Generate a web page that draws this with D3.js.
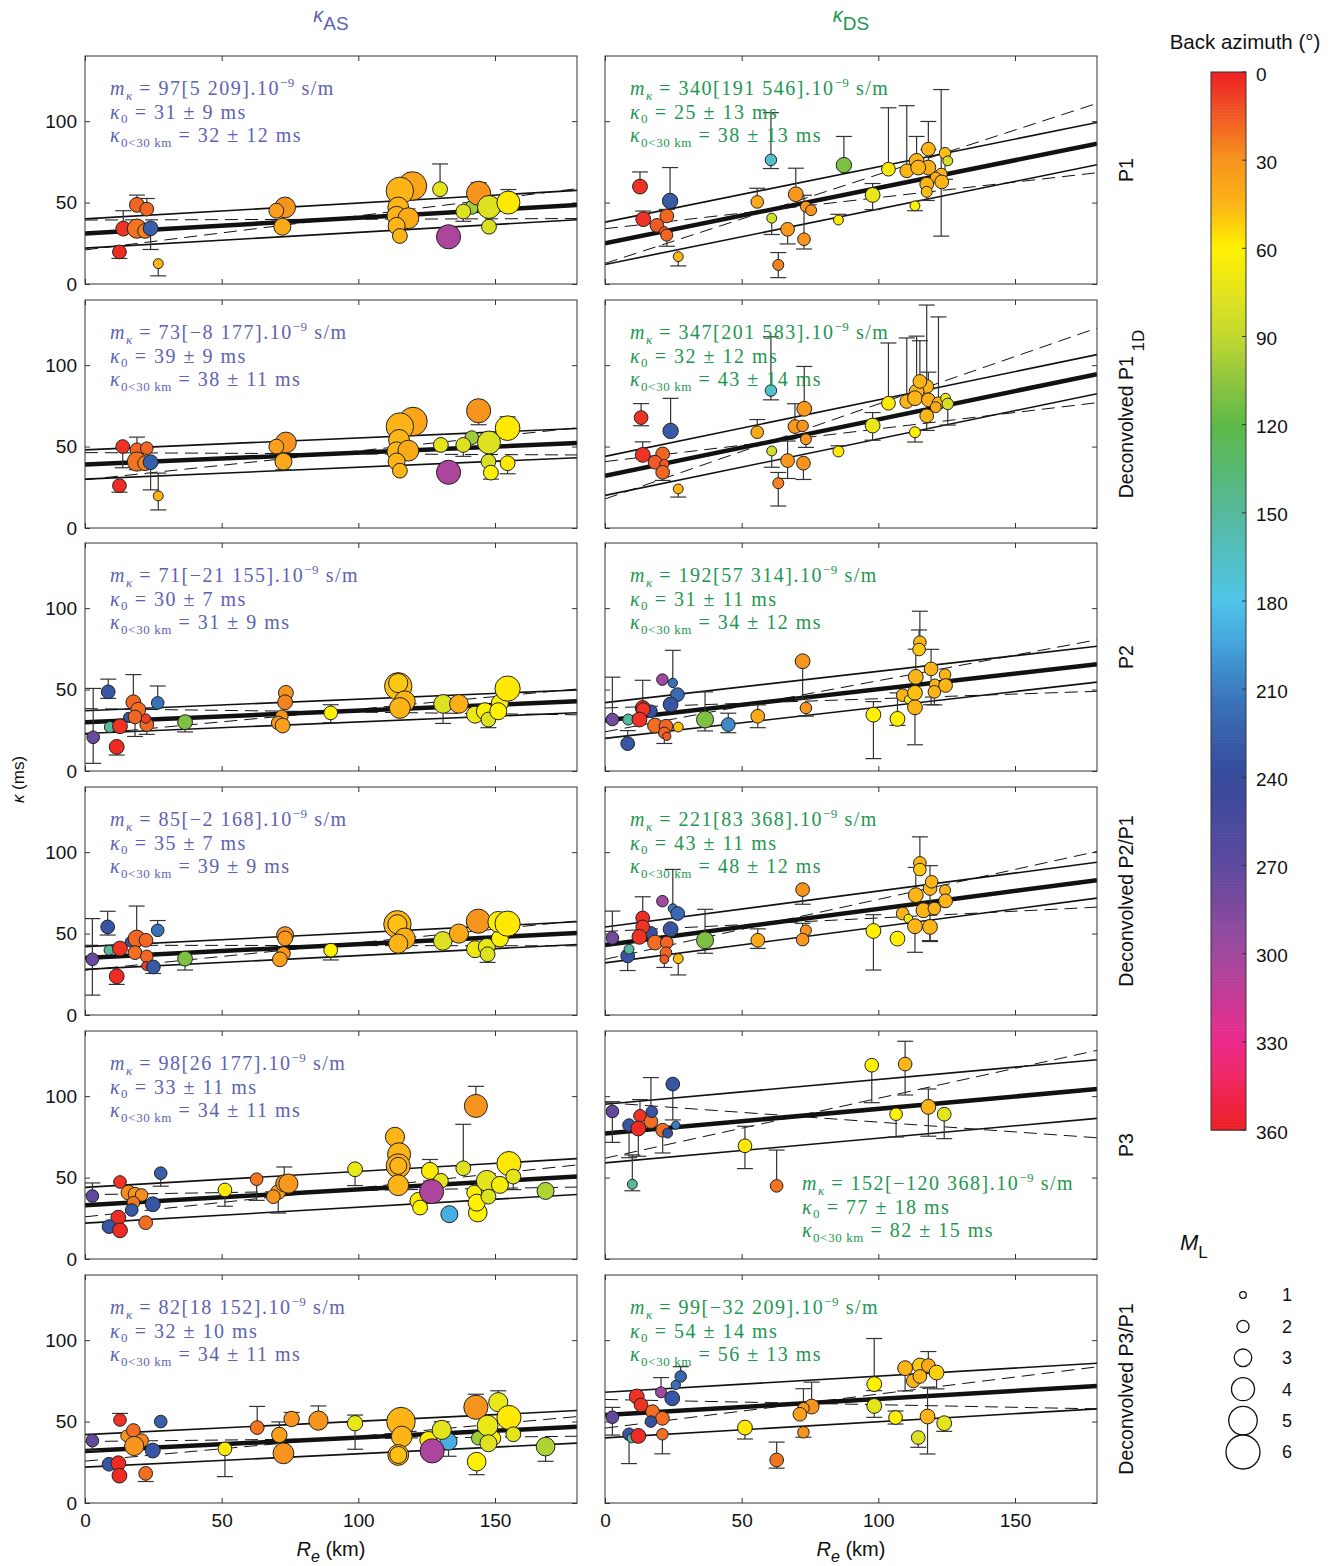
<!DOCTYPE html>
<html>
<head>
<meta charset="utf-8">
<script src="https://cdn.jsdelivr.net/npm/d3@7"></script>
<style>
body { margin: 0; background: #fff; }
svg text { font-family: "Liberation Sans", Arial, sans-serif; white-space: pre; }
.tex { font-family: "Liberation Serif", "DejaVu Serif", serif; }
</style>
</head>
<body>
<div id="chart"></div>
<script>
// rows: [Re (km), kappa (ms), back azimuth (deg), ML, error below, error above]
const asP1 = [
  [14,34,5,2.5,0,11],[12.6,19.7,3,2.3,4,0],[19,48.6,18,2.5,0,6],[22.6,46,18,2.3,0,6.5],
  [19,34,22,3.3,0,0],[22,32.6,25,2.5,0,0],[24,34.2,225,2.5,13,0],[26.8,12.5,45,1.6,7.5,0],
  [73.2,47,30,3.6,0,0],[70,45,35,2.5,0,0],[72.2,35.2,40,2.9,2,0],[119.8,60.2,38,5,0,0],
  [115.2,57.2,45,4.8,0,0],[114.6,47,45,3.6,0,0],[114,41.8,45,3.3,0,0],[118.3,40.4,40,3.6,0,0],
  [114,35.7,45,2.9,0,0],[115.2,29.5,45,2.5,0,0],[129.9,58.2,75,2.5,0,15.5],[133,29,305,4.2,0,0],
  [141.5,47,100,2.3,0,0],[138.4,44.5,78,2.5,6,0],[144,55.7,30,4.2,0,6.5],[147.8,47.3,78,4,0,0],
  [147.8,35.2,80,2.5,0,0],[154.9,50,58,4,0,8]
]
const dsP1 = [
  [12.8,59.8,5,2.5,0,9],[14,39.8,5,2.5,0,5],[23.8,51,228,2.6,0,20.5],[22.6,41.8,18,2.3,0,4],
  [19,36,15,2.3,0,0],[21.7,32.2,15,1.6,0,0],[22.6,30,18,2,6.8,0],[26.8,16.8,45,1.6,5.7,0],
  [60.7,76.2,170,1.9,5.3,29],[55.7,50.4,40,2.1,0,8.4],[61,40.4,82,1.6,10,0],[69.8,55.1,32,2.5,0,16],
  [66.8,33.6,32,2.3,9,0],[73.5,47.5,30,1.8,0,0],[75.4,45.3,30,1.8,0,0],[72.8,27.5,30,2.1,6,27],
  [63.4,11.7,25,1.8,7.8,7.6],[87.4,73,110,2.6,0,17.6],[85.4,39.3,58,1.6,0,3.5],[97.9,54.7,72,2.5,9,7],
  [103.7,70.5,58,2.3,0,37.7],[113.4,48,60,1.6,3,0],[110.4,69.5,45,2.3,0,40],[123,67.4,45,2,38,52],
  [114,75.6,45,2.5,0,15],[118.3,82.8,45,2.3,0,17],[118.3,71.5,42,2.5,0,11],[114.6,71.5,45,2.5,0,0],
  [121,65.4,40,1.8,0,0],[117.7,61.3,45,2.3,10,0],[117.7,56.6,48,1.8,0,0],[123.2,62.7,45,2.3,0,0],
  [124.4,80.3,48,1.9,16,0],[125.4,75.6,82,1.6,0,0]
]
const as1D = [
  [13.8,50,5,2.3,13,0],[12.6,26,3,2.3,4,0],[19,48,18,2.3,0,0],[22.6,49,18,2.1,0,0],
  [19,40.8,22,3.3,5,15],[22,39.8,25,2.5,0,0],[24,40.4,225,2.5,17,0],[26.8,19.7,45,1.6,8.6,14],
  [73.5,52.5,30,3.6,0,0],[70,50,35,2.5,0,0],[72.6,40.8,40,2.9,5,0],[120,65.4,38,5,0,0],
  [115.2,62.3,45,4.8,0,0],[114.9,54.1,45,3.6,0,0],[114,47,45,3.3,0,0],[118.3,47.5,40,3.6,0,0],
  [114,40.8,45,2.9,0,0],[115.2,35.2,45,2.5,0,0],[130.2,51,75,2.5,0,0],[133,34.2,305,4.2,0,0],
  [141.5,55.5,100,2.3,0,0],[138.4,51,78,2.5,7,0],[144,72,30,4.2,8.6,0],[147.8,52.5,78,4,0,0],
  [147.6,40.8,80,2.5,0,0],[148.5,34,62,2.5,4,0],[154.6,39.8,58,2.5,6.5,0],[154.6,61.3,58,4.3,0,7]
]
const ds1D = [
  [13.2,67.8,5,2.3,5,8.6],[13.8,44.9,5,2.5,0,8],[24,59.6,228,2.6,0,20],[21.1,45.5,18,2.3,0,0],
  [18.3,40.4,15,2.3,0,0],[21.7,39.3,15,1.5,0,0],[21.1,34.2,18,2.3,5,0],[26.8,24,45,1.6,5,0],
  [60.7,84.4,170,1.9,5.7,33],[55.7,58.8,40,2.1,0,7.8],[61,47.3,82,1.6,10,0],[66.8,41.4,32,2.3,11,12],
  [72.6,39.8,30,2.3,10,0],[63.4,27.5,25,1.8,14,6.6],[69.5,62.3,32,2.3,0,14],[72.3,62.7,30,1.9,0,0],
  [73.5,54.5,30,1.8,5,0],[72.9,73.2,32,2.5,0,26],[85.4,47,58,1.8,0,3.5],[97.9,62.9,72,2.5,9,8],
  [103.7,76.6,58,2.3,0,37],[113.4,58.8,60,1.8,6,0],[110.4,77.7,45,2.3,0,39],[117.7,86.9,45,2.3,0,50],
  [114,83.8,45,2.5,0,34],[115.2,90,45,2.3,0,25],[113.4,79.7,45,2.5,0,0],[118.3,78.7,42,2.3,0,17],
  [122,76.6,45,2.1,0,53],[117.7,68.9,45,2.3,9,0],[121,74.2,40,1.8,0,0],[124.6,79.7,70,1.6,0,0],
  [125.4,76.2,82,1.9,13,0]
]
const asP2 = [
  [3,20.7,275,2.1,16,30],[8.5,48.6,232,2.3,4,7.8],[9.1,27,150,1.8,0,0],[15.9,33,230,1.6,0,0],
  [17.7,42.2,18,2.5,0,17],[19.5,37.7,20,2.5,0,0],[18.3,33.2,18,2.3,12,0],[22.6,28.5,18,2.3,6,0],
  [22.3,32.2,8,1.5,0,0],[12.8,27.5,5,2.5,0,0],[11.6,14.8,3,2.5,5,0],[26.6,41.8,215,2.1,0,10.4],
  [36.6,30,110,2.5,6,0],[73.5,48,30,2.5,0,0],[73.2,42.2,25,2.5,0,0],[72,33.6,30,2.1,0,0],
  [70.7,29.5,32,2.3,0,0],[72.3,27.9,35,2.5,0,0],[89.9,35.7,60,2.3,6,5],[114.6,52,48,4.8,0,0],
  [114.6,54,50,3.3,0,0],[117,42.8,45,3.6,0,0],[115.2,38.7,45,3.6,0,0],[131,41.2,78,3.2,12,0],
  [136.8,41.2,42,3.2,0,0],[142.7,34.6,70,2.9,0,0],[146.3,36.7,62,2.9,0,0],[147.6,31.6,78,2.5,5,0],
  [151.8,41.8,62,2.9,0,0],[151.2,36.7,60,2.9,0,0],[154.6,50.6,58,4.4,0,2]
]
const dsP2 = [
  [2.7,31.6,280,2.1,0,26],[8.5,31.6,150,1.8,0,0],[8.3,16.8,232,2.3,0,8],[16.8,36.7,235,2.1,0,0],
  [13.8,38.7,3,2.5,0,17],[14,37.7,5,2.3,0,0],[12.6,31.6,5,2.5,0,0],[21,56.1,300,1.9,0,0],
  [24.8,54.1,215,1.5,0,20],[26.5,46.9,220,2.3,0,0],[24,40.8,232,2.5,0,0],[18.3,27.9,20,2.5,0,0],
  [22.3,27.5,18,2.3,0,0],[21.7,23.4,18,1.9,6.5,0],[22.6,21.3,15,1.3,0,0],[26.8,27,48,1.6,0,0],
  [36.6,31.6,110,2.9,7,17],[45.1,28.5,205,2.3,5,7],[55.9,33.6,40,2.3,7,7],[72.3,67.4,30,2.5,23,0],
  [73.5,38.7,30,1.9,5,0],[98.2,34.6,60,2.5,27,8],[107,32,60,2.5,4,16],[108.9,46.5,45,2.1,0,0],
  [111,43.8,70,1.3,0,0],[113.4,48,48,2.5,0,0],[113.4,39.1,45,2.5,23,0],[113.7,57.8,45,2.5,0,17],
  [115.2,79.1,45,2.1,0,19],[114.9,74.6,50,2.1,0,12],[119.3,62.7,45,2.3,22,12],[120.7,53.1,45,1.8,0,0],
  [120.5,48.6,45,2.1,8,0],[124.4,59.2,45,1.9,0,0],[124.6,52.5,45,2.3,0,0]
]
const asP2P1 = [
  [2.7,34.2,275,2.1,22,25],[8.3,54.1,232,2.3,5,9.6],[8.8,39.8,150,1.6,0,0],[16.5,44.9,232,1.6,0,0],
  [12.8,40.8,5,2.5,0,0],[11.6,23.8,3,2.5,5,0],[18.9,46.9,18,2.9,0,20],[22.3,45.9,18,2.3,0,0],
  [18.3,38.3,20,2.3,0,0],[22.6,36,18,2.1,0,0],[22.3,30.1,8,1.4,0,0],[25,29.5,230,2.3,4,0],
  [26.6,52,215,2.1,0,6],[36.6,34.6,110,2.5,7,0],[73.2,49,30,2.9,0,0],[73.2,47,32,2.5,0,0],
  [72.6,37.7,30,2.3,0,0],[71.3,34.2,35,2.5,0,0],[89.9,39.8,60,2.3,6,0],[114.3,55.7,45,4.8,0,0],
  [114.3,55.7,48,3.3,0,0],[117,47,42,3.6,0,0],[114.6,43.8,45,3.3,0,0],[130.9,45.5,78,3.2,0,0],
  [136.8,50,40,3.3,0,0],[143.9,57.6,30,4.2,0,0],[142.7,40.4,70,2.9,0,0],[147,41.8,72,2.9,0,0],
  [147.3,37.3,78,2.5,5,0],[151.8,47,62,2.9,0,0],[151.2,57.2,62,3.6,0,0],[154.6,56.1,58,4.4,0,0]
]
const dsP2P1 = [
  [2.7,47.3,280,2.1,0,16.5],[8.3,36.3,232,2.3,9,0],[8.8,40.4,150,1.6,0,0],[16.8,50.4,235,2.1,0,0],
  [13.8,59.6,3,2.3,0,13],[13.8,54.1,5,2.3,0,0],[12.6,48,5,2.5,0,0],[21,69.9,300,1.9,0,0],
  [24.8,65.4,215,1.5,0,24],[26.6,62.3,220,2.3,0,0],[24,52.7,232,2.5,0,0],[18.3,44.5,20,2.5,0,0],
  [22.6,44.5,18,2.1,0,0],[22.3,38.3,18,1.9,0,0],[21.7,34.2,15,1.4,5,0],[26.8,34.6,48,1.6,10,0],
  [36.6,45.9,110,2.9,8,19],[55.9,45.9,40,2.3,5,7],[72.3,77,30,2.3,9,0],[73.5,52,30,1.8,0,0],
  [72.3,46.3,32,2.1,0,10],[98.2,51.6,60,2.5,24,10],[107,46.9,60,2.5,0,0],[108.9,62.3,45,2.1,0,0],
  [111,59.2,70,1.4,0,0],[113.4,54.5,45,2.5,16,0],[113.7,73.6,45,2.5,0,17],[115.2,93.4,45,2.1,0,16],
  [115.2,89.3,50,2.1,0,0],[116.5,64.3,45,2.5,0,0],[118.9,77.7,45,2.3,32,14],[119.5,81.8,45,2.1,0,0],
  [120.5,65.4,45,2.1,0,0],[118.9,54.1,45,2.5,9,0],[124.4,76.6,45,1.8,0,0],[124.1,68.4,80,1.3,0,0],
  [124.6,70.1,45,2.3,0,0]
]
const asP3 = [
  [2.7,38.7,270,2.1,0,8],[12.8,47.3,5,2.1,0,0],[15.9,40.8,28,2.5,0,0],[18.3,39.8,30,2.3,0,0],
  [20.7,39.3,28,2.1,0,0],[17.7,34.6,22,2.1,0,0],[17.1,30.1,230,2.1,0,0],[24.8,33.6,232,2.5,0,0],
  [12.2,25.4,3,2.5,0,0],[8.8,19.9,232,2.3,0,0],[12.8,17.6,3,2.5,0,0],[22.2,22.3,20,2.3,0,0],
  [27.7,52.7,225,2.1,8,0],[51.2,42.4,58,2.3,10,0],[62.8,49,22,2.1,13,0],[70.7,41.2,35,2.5,13,0],
  [68.9,38.3,30,2.3,0,0],[72.9,46.5,30,2.9,0,10],[74.4,46.3,32,3.3,0,0],[98.8,55.1,72,2.5,10,0],
  [113.4,75,45,3.3,0,0],[114.9,64.3,45,4,0,0],[114.6,57.2,42,4.2,0,0],[114.6,57.2,45,2.9,0,0],
  [114.6,45.3,45,3.6,0,0],[122,35.7,58,2.9,0,0],[122.6,31.6,60,2.5,0,0],[126.2,54.1,58,2.9,0,7],
  [130.2,48,75,2.5,0,0],[126.8,41.4,305,4.2,0,0],[133.3,27.5,190,2.9,0,0],[138.4,55.7,78,2.5,0,27],
  [143,94,30,4,0,12],[143.3,40.4,100,2.5,0,0],[142.4,40.8,62,2.5,0,0],[143.7,28.5,60,3.2,0,0],
  [143.3,34.6,60,2.9,0,0],[147,48,75,3.6,0,0],[147.6,38.3,78,2.5,0,0],[151.8,45.5,65,2.9,0,0],
  [155.1,58.6,58,4.2,0,0],[156.7,50.6,75,2.5,8,0],[168.5,41.8,95,2.9,0,0]
]
const dsP3 = [
  [2.7,90.6,272,2.1,19,6],[8.8,82.2,232,2.1,20,0],[12.8,87.9,5,2.1,0,10],[16.8,84.4,20,2.3,0,27],
  [17.1,90.4,232,1.9,0,0],[12.2,80.1,3,2.5,17,0],[21.1,79.1,20,2.3,14,0],[22.9,77.3,232,1.6,0,0],
  [25.9,82.2,210,1.3,0,0],[24.8,107.4,232,2.3,22,0],[10,45.9,150,1.6,4,18],[51.2,69.5,58,2.3,14,12],
  [62.8,44.9,22,2.1,0,22],[97.6,119,60,2.3,23,0],[109.8,119.7,45,2.3,19,14],[106.5,88.9,60,2.1,14,0],
  [118.3,93.4,45,2.5,18,11],[124.1,88.9,75,2.3,15,0]
]
const asP3P1 = [
  [2.7,38.3,272,2.1,6,0],[12.8,51,5,2.1,0,4],[15.2,41.2,30,1.9,0,0],[17.7,44.5,20,2.3,0,0],
  [20.7,38.3,25,2.3,0,0],[18,35,30,3.3,0,0],[24.8,32.2,232,2.5,0,0],[8.8,23.8,232,2.3,0,0],
  [12.2,24.4,3,2.5,0,0],[12.6,16.8,3,2.5,0,0],[22.2,18.2,20,2.3,5,0],[27.7,50,225,2.1,0,0],
  [51.2,33.2,58,2.3,17,0],[63,46.3,22,2.3,0,13],[71.1,41.8,35,2.6,0,8],[75.6,51.6,30,2.6,0,4],
  [85.4,50.6,30,3.3,0,9],[72.6,30.5,30,3.6,0,0],[98.8,49,72,2.6,16,5],[115.6,50,45,5,0,0],
  [115.9,40.8,45,3.6,0,0],[114.6,29.5,45,3.6,0,0],[114.6,29.5,48,2.9,0,0],[125.6,38.7,58,2.9,0,0],
  [133,37.7,190,2.9,9,0],[130.5,44.9,75,3.3,0,5],[127,32,305,4.2,0,0],[143,58.8,30,4.2,0,8],
  [143.9,39.8,100,2.3,0,0],[149.4,39.8,60,2.5,0,0],[151.2,61.9,72,3.3,0,7],[155.1,52.5,58,4.2,0,0],
  [147.3,47.5,72,3.6,0,0],[147.6,36.7,78,2.9,0,0],[156.7,42.2,75,2.5,0,0],[143.3,25.4,60,3.2,8,0],
  [168.5,34.6,95,3.2,9,0]
]
const dsP3P1 = [
  [2.7,52.7,272,2.1,11,6],[8.8,42.2,232,2.1,18,0],[9.8,39.8,150,1.5,0,0],[12.2,41.2,3,2.5,0,0],
  [11.6,65.4,5,2.5,0,0],[13.2,60.2,5,2.3,0,0],[17.4,56.1,20,2.3,0,0],[21,52,20,2.3,0,0],
  [16.8,50,235,1.9,0,0],[20.5,68,300,1.8,0,9],[24.6,64.3,232,2.5,0,0],[25.9,72.5,215,1.5,0,0],
  [27.7,77.7,222,1.9,0,6],[21,42.2,20,1.9,12,0],[51.2,46.3,58,2.5,7,0],[62.8,26.4,22,2.3,5,11],
  [75.6,59.2,30,2.5,0,15],[72.6,58.2,32,1.9,0,12],[71.3,54.5,35,2.3,0,0],[72.6,43.4,30,1.9,3,0],
  [98.5,73,60,2.5,4,28],[98.5,59.6,75,2.5,7,0],[106.3,52.5,60,2.3,4,4],[109.8,82.8,45,2.5,14,0],
  [115.2,84.4,50,2.5,0,0],[118.3,84.4,40,2.3,0,8.6],[121.3,80.1,52,2.5,10,0],[112.8,75,45,2.3,0,0],
  [115.2,77.7,45,2.3,0,0],[118,53.1,45,2.5,23,18],[124.1,49,75,2.5,5,0],[114.6,40.2,78,2.3,6,0]
]

// panels in reading order (left AS, right DS)
const panels = [asP1, dsP1, as1D, ds1D, asP2, dsP2, asP2P1, dsP2P1, asP3, dsP3, asP3P1, dsP3P1]

// fit results, 1e-9 s/m and ms
const slopes = [97, 340, 73, 347, 71, 192, 85, 221, 98, 152, 82, 99]
const slopeLo = [5, 191, -8, 201, -21, 57, -2, 83, 26, -120, 18, -32]
const slopeHi = [209, 546, 177, 583, 155, 314, 168, 368, 177, 368, 152, 209]
const kappa0 = [31, 25, 39, 32, 30, 31, 35, 43, 33, 77, 32, 54]
const kappa0Sd = [9, 13, 9, 12, 7, 11, 7, 11, 11, 18, 10, 14]
const kappaNear = [32, 38, 38, 43, 31, 34, 39, 48, 34, 82, 34, 56]
const kappaNearSd = [12, 13, 11, 14, 9, 12, 9, 12, 11, 15, 11, 13]
const pivotRe = [90, 60, 90, 60, 90, 57, 90, 60, 90, 70, 90, 73]

const rowLabels = [["P1", ""], ["Deconvolved P1", "1D"], ["P2", ""], ["Deconvolved P2/P1", ""], ["P3", ""], ["Deconvolved P3/P1", ""]]
const colTitles = ["AS", "DS"]
const xTicks = [0, 50, 100, 150]
const yTicks = [0, 50, 100]
const bazTicks = [0, 30, 60, 90, 120, 150, 180, 210, 240, 270, 300, 330, 360]
const bazStops = [0, 15, 30, 45, 60, 75, 90, 105, 120, 150, 180, 195, 210, 225, 240, 270, 300, 330, 345, 360]
const bazColors = ["#ed2024", "#f15a25", "#f7941d", "#fcb416", "#fff100", "#e4e41d", "#c2d82e", "#8fc53f",
  "#5cb947", "#55b99c", "#4fc5e9", "#43a3db", "#3b7cc0", "#385fa9", "#364a9b", "#5d4a9e", "#a04a9f",
  "#ec2a8c", "#ee2658", "#ed2024"]
const mlLegend = [1, 2, 3, 4, 5, 6]

const W = 1338, H = 1566
const colX = [85, 605], rowY = [56, 300, 543, 787, 1031, 1275]
const pw = 492, ph = 228
const textColors = ["#5d62b2", "#1e9650"]

const color = d3.scaleLinear().domain(bazStops).range(bazColors).interpolate(d3.interpolateRgb)
const radius = d3.scaleLinear().domain([1, 6]).range([3.3, 17])

const svg = d3.select("#chart").append("svg")
    .attr("width", W).attr("height", H)

const x = d3.scaleLinear().domain([0, 180]).range([0, pw])
const y = d3.scaleLinear().domain([0, 140]).range([ph, 0])

// one text block, several lines, with sub/superscripts
function richBlock(g, px, py, lines, size, lineH, fill) {
    const t = g.append("text").attr("class", "tex")
        .attr("x", px).attr("y", py).attr("font-size", size).attr("fill", fill)
        .attr("letter-spacing", 1.5)
    let cur = 0
    lines.forEach((parts, li) => {
        parts.forEach(([str, kind], k) => {
            const ts = t.append("tspan").text(str)
            if (k === 0) ts.attr("x", px)
            let target = li * lineH
            if (kind.includes("sub")) { target += size * 0.24; ts.attr("font-size", size * 0.65).attr("letter-spacing", 0.6) }
            if (kind.includes("sup")) { target -= size * 0.42; ts.attr("font-size", size * 0.65).attr("letter-spacing", 0.6) }
            if (kind.includes("i")) ts.attr("font-style", "italic")
            ts.attr("dy", target - cur)
            cur = target
        })
    })
    return t
}
const fmt = v => (v < 0 ? "\u2212" + Math.abs(v) : "" + v)

panels.forEach((data, i) => {
    const col = i % 2, row = Math.floor(i / 2)
    const g = svg.append("g").attr("transform", `translate(${colX[col]},${rowY[row]})`)
    const clipId = "clip" + i
    g.append("clipPath").attr("id", clipId).append("rect").attr("width", pw).attr("height", ph)

    // axes, ticks pointing inward
    const axB = g.append("g").attr("transform", `translate(0,${ph})`)
        .call(d3.axisBottom(x).tickValues(xTicks).tickSize(-5).tickPadding(11)
            .tickFormat(row === 5 ? d3.format("d") : ""))
    const axT = g.append("g").call(d3.axisTop(x).tickValues(xTicks).tickSize(-5).tickFormat(""))
    const axL = g.append("g")
        .call(d3.axisLeft(y).tickValues(yTicks).tickSize(-5).tickPadding(8)
            .tickFormat(col === 0 ? d3.format("d") : ""))
    const axR = g.append("g").attr("transform", `translate(${pw},0)`)
        .call(d3.axisRight(y).tickValues(yTicks).tickSize(-5).tickFormat(""))
    ;[axB, axT, axL, axR].forEach(a => {
        a.select(".domain").remove()
        a.selectAll("line").attr("stroke", "#333")
        a.selectAll("text").attr("font-size", 19).attr("fill", "#111")
            .attr("font-family", "Liberation Sans, Arial, sans-serif")
    })

    // fit lines
    const m = slopes[i] / 1000, k0 = kappa0[i], sd = kappa0Sd[i]
    const p = pivotRe[i], kp = k0 + m * p
    const lines = [
        { f: r => kp + slopeLo[i] / 1000 * (r - p), w: 1, dash: "13,7" },
        { f: r => kp + slopeHi[i] / 1000 * (r - p), w: 1, dash: "13,7" },
        { f: r => k0 + sd + m * r, w: 1.6, dash: null },
        { f: r => k0 - sd + m * r, w: 1.6, dash: null },
        { f: r => k0 + m * r, w: 4.5, dash: null }
    ]
    const lg = g.append("g").attr("clip-path", `url(#${clipId})`)
    const line = d3.line().x(d => x(d[0])).y(d => y(d[1]))
    lines.forEach(l => {
        lg.append("path")
            .datum(x.domain().map(r => [r, l.f(r)]))
            .attr("d", line).attr("fill", "none").attr("stroke", "#111")
            .attr("stroke-width", l.w).attr("stroke-dasharray", l.dash)
    })

    // error bars
    const eg = g.append("g").attr("clip-path", `url(#${clipId})`)
        .attr("stroke", "#333").attr("stroke-width", 1.2)
    data.forEach(d => {
        const cx = x(d[0])
        const top = d[1] + d[5], bot = d[1] - d[4]
        if (d[5] > 0 || d[4] > 0) {
            eg.append("line").attr("x1", cx).attr("x2", cx).attr("y1", y(bot)).attr("y2", y(top))
        }
        if (d[5] > 0) eg.append("line").attr("x1", cx - 8).attr("x2", cx + 8).attr("y1", y(top)).attr("y2", y(top))
        if (d[4] > 0) eg.append("line").attr("x1", cx - 8).attr("x2", cx + 8).attr("y1", y(bot)).attr("y2", y(bot))
    })

    // markers
    g.append("g").attr("clip-path", `url(#${clipId})`)
        .selectAll("circle").data(data).join("circle")
        .attr("cx", d => x(d[0])).attr("cy", d => y(d[1]))
        .attr("r", d => radius(d[3]))
        .attr("fill", d => color(d[2]))
        .attr("stroke", "#222").attr("stroke-width", 1)

    g.append("rect").attr("width", pw).attr("height", ph)
        .attr("fill", "none").attr("stroke", "#333").attr("stroke-width", 1)

    // fit annotation
    const tx = i === 9 ? 197 : 25
    const ty = i === 9 ? 159 : 39
    richBlock(g, tx, ty, [
        [["m", "i"], ["\u03ba", "subi"], [` = ${fmt(slopes[i])}[${fmt(slopeLo[i])} ${fmt(slopeHi[i])}].10`, ""], ["\u22129", "sup"], [" s/m", ""]],
        [["\u03ba", "i"], ["0", "sub"], [` = ${kappa0[i]} \u00b1 ${kappa0Sd[i]} ms`, ""]],
        [["\u03ba", "i"], ["0<30 km", "sub"], [` = ${kappaNear[i]} \u00b1 ${kappaNearSd[i]} ms`, ""]]
    ], 20, 23.5, textColors[col])
})

// column titles
colTitles.forEach((t, c) => {
    const tt = svg.append("text").attr("x", colX[c] + pw / 2).attr("y", 22)
        .attr("text-anchor", "middle").attr("font-size", 20).attr("fill", textColors[c])
    tt.append("tspan").text("\u03ba").attr("font-style", "italic")
    tt.append("tspan").text(t).attr("dy", 8).attr("font-size", 19)
})

// row labels
rowLabels.forEach(([main, sub], r) => {
    const cy = rowY[r] + ph / 2
    const t = svg.append("text").attr("transform", `translate(1133,${cy}) rotate(-90)`)
        .attr("text-anchor", "middle").attr("font-size", 19.5).attr("fill", "#111")
    t.append("tspan").text(main)
    if (sub) t.append("tspan").text(" " + sub).attr("dy", 11).attr("font-size", 17)
})

// axis titles
const yl = svg.append("text").attr("transform", `translate(24,${(rowY[0] + rowY[5] + ph) / 2}) rotate(-90)`)
    .attr("text-anchor", "middle").attr("font-size", 17).attr("fill", "#111")
yl.append("tspan").text("\u03ba").attr("font-style", "italic")
yl.append("tspan").text(" (ms)")
colX.forEach(cx => {
    const t = svg.append("text").attr("x", cx + pw / 2).attr("y", 1556)
        .attr("text-anchor", "middle").attr("font-size", 20).attr("fill", "#111")
    t.append("tspan").text("R").attr("font-style", "italic")
    t.append("tspan").text("e").attr("font-style", "italic").attr("dy", 6).attr("font-size", 16)
    t.append("tspan").text(" (km)").attr("dy", -6)
})

// colour bar
const cbX = 1211, cbW = 35, cbTop = 72, cbBot = 1130
const cb = d3.scaleLinear().domain([0, 360]).range([cbTop, cbBot])
const cbg = svg.append("g")
cbg.selectAll("rect").data(d3.range(0, 360, 1)).join("rect")
    .attr("x", cbX).attr("width", cbW)
    .attr("y", d => cb(d)).attr("height", cb(1) - cb(0) + 0.6)
    .attr("fill", d => color(d + 0.5))
cbg.append("rect").attr("x", cbX).attr("y", cbTop).attr("width", cbW).attr("height", cbBot - cbTop)
    .attr("fill", "none").attr("stroke", "#333")
cbg.selectAll("line.tk").data(bazTicks).join("line").attr("class", "tk")
    .attr("x1", cbX + cbW - 4).attr("x2", cbX + cbW).attr("y1", d => cb(d)).attr("y2", d => cb(d))
    .attr("stroke", "#333")
cbg.selectAll("text").data(bazTicks).join("text")
    .attr("x", cbX + cbW + 10).attr("y", d => cb(d) + 2).attr("dy", "0.35em")
    .attr("font-size", 19).attr("fill", "#111").text(d => d)
svg.append("text").attr("x", 1245).attr("y", 49).attr("text-anchor", "middle")
    .attr("font-size", 20.5).attr("fill", "#111").text("Back azimuth (\u00b0)")

// magnitude legend
const ml = svg.append("text").attr("x", 1180).attr("y", 1250).attr("font-size", 22).attr("fill", "#111")
ml.append("tspan").text("M").attr("font-style", "italic")
ml.append("tspan").text("L").attr("dy", 8).attr("font-size", 17)
const mly = d3.scaleLinear().domain([1, 6]).range([1295, 1452])
svg.append("g").selectAll("circle").data(mlLegend).join("circle")
    .attr("cx", 1243).attr("cy", d => mly(d)).attr("r", d => radius(d))
    .attr("fill", "#fff").attr("stroke", "#111").attr("stroke-width", 1.3)
svg.append("g").selectAll("text").data(mlLegend).join("text")
    .attr("x", 1282).attr("y", d => mly(d)).attr("dy", "0.35em")
    .attr("font-size", 18).attr("fill", "#111").text(d => d)
</script>
</body>
</html>
